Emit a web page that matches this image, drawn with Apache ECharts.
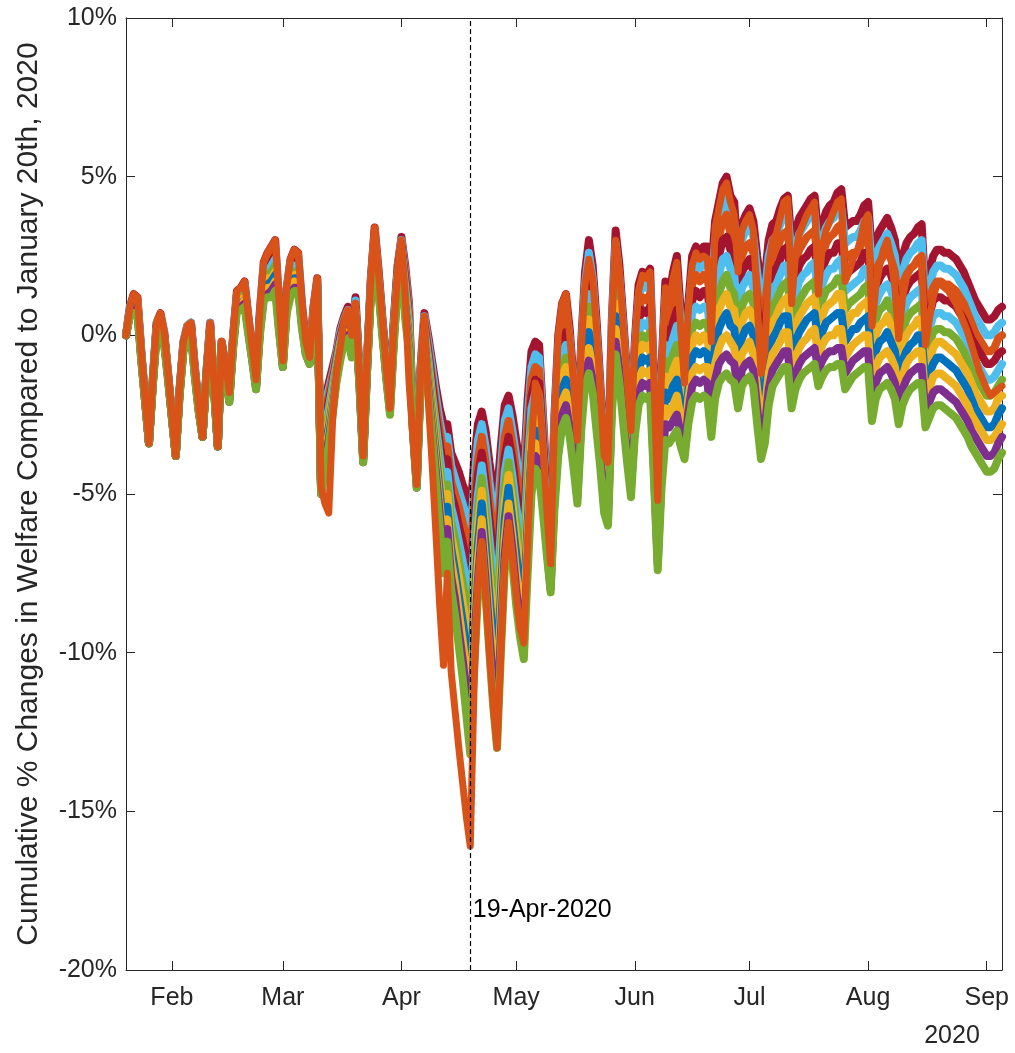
<!DOCTYPE html>
<html>
<head>
<meta charset="utf-8">
<title>Cumulative % Changes in Welfare</title>
<script src="https://cdn.jsdelivr.net/npm/echarts@6/dist/echarts.min.js"></script>
<style>
  html, body { margin: 0; padding: 0; background: #fff; }
  #main { width: 1015px; height: 1053px; }
</style>
</head>
<body>
<div id="main"></div>
<script>
// one value per day from 20-Jan-2020, in tenths of a percent
var band0 = [0,9,13,12,-5,-20,-34,-14,4,7, 1,-12,-25,-38,-17,-2,3,4,-10,-22, -32,-12,4,-15,-35,-2,-9,-18,0,14, 15,17,6,-4,-14,8,23,26,28,30, 11,-8,15,24,27,26,10,-2,-7,9, 18,-47,-20,-15,-10,-5,2,6,9,2, 12,-10,-37,-8,18,34,21,6,-8,-17, 5,22,31,22,10,-25,-43,-10,7,0, -8,-16,-23,-28,-28,-37,-40,-43,-47,-50, -56,-40,-28,-24,-30,-40,-48,-50,-35,-22, -19,-25,-33,-40,-43,-20,-5,-2,-3,-25, -46,-66,-25,0,10,13,2,-14,-32,-2, 20,30,22,5,-15,-36,-40,5,33,22, 5,-12,-29,-2,16,20,19,21,-12,-49, -10,17,12,20,25,8,-13,10,25,28, 26,28,28,20,36,42,48,50,44,42, 24,35,38,40,36,25,16,18,30,35, 36,40,43,44,29,33,37,39,41,43, 44,31,35,39,41,42,45,46,34,35, 36,36,38,41,42,26,30,33,35,37, 34,30,18,25,29,31,32,34,35,13, 20,25,27,27,26,26,25,24,22,20, 17,14,11,9,7,5,5,6,8,9];
var band1 = [0,9,12,11,-5,-20,-34,-14,4,6, 1,-12,-25,-38,-17,-2,3,4,-10,-22, -32,-12,4,-15,-35,-2,-9,-18,0,13, 14,16,5,-4,-14,7,22,25,26,28, 10,-8,14,23,26,25,9,-2,-7,8, 17,-47,-22,-17,-12,-6,1,5,8,1, 11,-11,-37,-8,17,33,20,5,-9,-18, 4,21,30,20,8,-26,-44,-11,6,-2, -10,-19,-27,-33,-32,-41,-45,-49,-53,-57, -64,-47,-33,-28,-35,-46,-55,-58,-42,-27, -23,-30,-38,-46,-49,-26,-10,-6,-7,-28, -48,-68,-28,-4,6,9,-1,-17,-34,-5, 16,26,18,1,-18,-38,-42,2,29,18, 2,-15,-31,-5,12,16,15,17,-15,-52, -14,12,7,15,19,4,-16,6,20,23, 21,23,23,15,30,36,42,44,38,36, 19,30,33,35,31,20,10,13,25,30, 31,35,38,39,24,28,32,34,36,38, 39,26,30,34,36,37,40,40,29,30, 31,31,33,36,37,21,25,28,30,32, 29,25,13,20,24,26,27,29,30,9, 15,20,22,22,21,21,20,19,17,15, 12,9,6,4,2,0,0,1,3,4];
var band2 = [0,8,12,11,-6,-20,-34,-14,3,6, 0,-12,-25,-38,-17,-3,2,3,-11,-22, -32,-12,3,-15,-35,-2,-10,-19,-1,13, 14,15,5,-5,-15,6,21,23,25,27, 9,-8,13,22,24,24,8,-3,-7,8, 17,-48,-24,-19,-13,-7,0,4,7,0, 10,-11,-38,-9,17,33,20,5,-9,-19, 3,21,29,19,7,-26,-44,-11,5,-4, -13,-22,-30,-37,-35,-46,-50,-54,-59,-64, -71,-53,-39,-32,-40,-52,-62,-66,-48,-32, -27,-34,-43,-51,-55,-31,-14,-10,-11,-31, -51,-69,-31,-8,2,5,-5,-20,-36,-8, 13,22,14,-2,-20,-40,-44,-1,25,15, -2,-18,-33,-8,8,12,11,13,-19,-54, -18,7,3,10,14,-1,-18,2,16,19, 17,19,18,10,25,31,36,38,32,31, 15,25,28,29,26,14,5,8,20,25, 26,30,32,33,19,23,27,29,31,32, 33,22,25,29,31,32,34,35,24,25, 26,26,28,31,32,15,20,23,25,27, 24,20,9,16,19,21,22,24,25,5, 11,15,17,17,16,16,15,14,12,10, 7,4,1,-1,-3,-5,-5,-4,-1,0];
var band3 = [0,8,11,10,-6,-20,-34,-15,3,5, 0,-13,-25,-38,-18,-3,2,3,-11,-23, -32,-13,3,-16,-35,-3,-10,-19,-1,12, 13,15,4,-5,-15,6,19,22,23,25, 8,-9,13,20,23,22,8,-3,-8,7, 16,-48,-27,-21,-15,-8,-1,4,6,-1, 9,-12,-38,-9,16,32,19,4,-10,-19, 3,20,28,17,5,-27,-45,-12,3,-5, -15,-25,-34,-42,-39,-50,-54,-60,-65,-71, -79,-60,-44,-37,-46,-58,-69,-74,-55,-38, -32,-39,-49,-57,-61,-37,-19,-14,-15,-34, -53,-71,-34,-11,-2,1,-8,-22,-38,-10, 9,17,10,-6,-23,-42,-46,-4,21,11, -5,-20,-36,-11,5,8,7,9,-22,-57, -21,2,-2,4,8,-5,-21,-1,11,14, 12,14,14,4,19,25,30,31,27,25, 10,20,22,24,20,9,-1,2,14,20, 21,24,27,28,13,18,22,24,25,27, 28,17,21,24,26,26,29,29,19,20, 21,22,23,26,26,10,15,18,20,21, 19,15,4,11,15,17,18,19,20,0, 6,11,12,12,11,11,10,9,7,5, 2,-1,-3,-5,-7,-9,-9,-8,-6,-5];
var band4 = [0,8,11,10,-6,-20,-34,-15,2,5, -1,-13,-25,-38,-18,-3,1,2,-11,-23, -32,-13,2,-16,-35,-3,-10,-19,-2,12, 12,14,4,-6,-15,5,18,20,22,24, 7,-9,12,19,22,21,7,-4,-8,7, 16,-48,-29,-23,-16,-9,-2,3,5,-2, 8,-12,-38,-10,16,31,18,4,-10,-20, 2,19,27,15,4,-27,-45,-12,2,-7, -18,-28,-38,-47,-43,-54,-59,-65,-71,-78, -86,-66,-50,-41,-51,-64,-76,-82,-61,-43, -36,-44,-54,-62,-67,-42,-23,-18,-19,-37, -55,-72,-37,-15,-6,-3,-12,-25,-40,-13, 6,13,6,-9,-26,-44,-48,-7,17,7, -8,-23,-38,-14,1,4,3,5,-25,-59, -25,-3,-6,-1,3,-9,-23,-5,7,9, 8,9,9,-1,14,19,24,25,21,19, 5,15,17,19,15,4,-6,-3,9,15, 16,19,22,22,8,13,17,19,20,22, 23,12,16,19,21,21,23,24,14,15, 16,17,18,21,21,5,10,13,15,16, 14,10,0,6,10,12,13,14,15,-4, 2,6,7,7,6,6,5,4,2,0, -3,-6,-8,-10,-12,-14,-14,-13,-11,-9];
var band5 = [0,7,10,9,-7,-21,-34,-15,2,4, -1,-13,-26,-38,-18,-4,1,2,-12,-23, -32,-13,2,-16,-35,-3,-11,-20,-2,11, 11,13,3,-6,-16,4,17,19,20,22, 6,-9,11,18,20,20,6,-4,-8,6, 15,-49,-31,-25,-18,-10,-3,2,4,-3, 7,-13,-39,-10,15,30,17,3,-11,-21, 1,18,26,13,2,-28,-46,-13,1,-9, -20,-31,-42,-52,-47,-59,-64,-71,-78,-85, -94,-73,-55,-45,-56,-70,-83,-90,-68,-48, -40,-49,-59,-68,-73,-48,-28,-22,-24,-41, -58,-74,-40,-19,-10,-7,-15,-28,-43,-16, 2,9,2,-13,-29,-46,-50,-10,13,3, -12,-26,-40,-17,-3,0,-1,1,-29,-62, -29,-8,-11,-6,-3,-14,-26,-9,2,4, 3,4,4,-6,8,13,17,19,15,13, 0,9,12,13,10,-2,-12,-8,4,9, 11,14,16,17,3,8,11,13,15,16, 17,7,11,14,15,16,18,18,8,10, 11,12,13,15,16,-1,5,8,9,11, 8,5,-5,1,5,7,8,9,10,-8, -3,1,2,2,1,1,0,-1,-3,-5, -8,-11,-13,-15,-17,-19,-19,-18,-16,-14];
var band6 = [0,7,9,9,-7,-21,-34,-15,2,4, -1,-13,-26,-38,-18,-4,1,2,-12,-23, -32,-13,2,-16,-35,-3,-11,-20,-2,10, 11,12,2,-6,-16,3,16,18,18,20, 5,-9,10,17,19,19,5,-4,-8,6, 14,-49,-33,-27,-19,-11,-4,1,3,-3, 7,-13,-39,-10,14,30,17,2,-11,-22, 0,18,26,12,1,-28,-46,-14,0,-11, -22,-34,-45,-56,-50,-63,-69,-76,-84,-92, -102,-79,-60,-49,-61,-76,-89,-98,-74,-53, -44,-53,-64,-73,-78,-53,-32,-26,-28,-44, -60,-75,-43,-23,-13,-10,-18,-31,-45,-19, -2,5,-2,-16,-31,-48,-52,-13,10,0, -15,-29,-42,-20,-7,-3,-4,-3,-32,-64, -33,-13,-16,-11,-8,-18,-29,-13,-3,0, -2,0,-1,-11,2,8,11,13,9,8, -4,4,7,8,5,-7,-17,-13,-1,4, 6,9,11,12,-2,3,6,8,10,11, 12,3,6,9,10,11,13,13,3,5, 7,7,9,10,11,-6,0,3,4,6, 3,0,-10,-3,0,2,3,5,5,-12, -8,-4,-2,-2,-3,-4,-5,-6,-8,-10, -12,-15,-18,-20,-22,-24,-24,-23,-20,-19];
var band7 = [0,7,9,8,-7,-21,-34,-15,1,3, -2,-13,-26,-38,-18,-4,0,1,-12,-23, -32,-13,1,-16,-35,-3,-11,-20,-3,10, 10,11,2,-7,-16,2,15,16,17,19, 4,-9,9,16,18,18,4,-5,-8,5, 14,-49,-35,-29,-21,-12,-5,0,2,-4, 6,-14,-39,-11,14,29,16,2,-12,-23, -1,17,25,10,-1,-29,-47,-14,-1,-13, -25,-37,-49,-61,-54,-67,-74,-82,-90,-99, -109,-86,-66,-53,-66,-82,-96,-106,-81,-58, -48,-58,-69,-79,-84,-59,-37,-30,-32,-47, -62,-77,-46,-27,-17,-14,-22,-34,-47,-22, -5,1,-6,-20,-34,-50,-54,-16,6,-4, -18,-32,-44,-23,-11,-7,-8,-7,-35,-67, -37,-18,-20,-16,-14,-22,-31,-17,-7,-5, -6,-5,-6,-16,-3,2,5,7,3,2, -9,-1,2,3,0,-12,-23,-18,-6,-1, 1,4,6,6,-7,-2,1,3,5,6, 7,-2,1,4,5,6,7,7,-2,0, 2,2,4,5,6,-11,-5,-2,-1,1, -2,-5,-14,-8,-5,-3,-2,0,0,-16, -12,-9,-7,-7,-8,-9,-10,-11,-13,-15, -17,-20,-23,-25,-27,-29,-29,-28,-25,-23];
var band8 = [0,7,8,8,-7,-21,-34,-16,1,3, -2,-14,-26,-38,-19,-4,0,1,-12,-24, -32,-14,1,-17,-35,-4,-11,-20,-3,9, 9,11,1,-7,-16,2,13,15,15,17, 3,-10,9,14,17,16,4,-5,-9,5, 13,-49,-38,-31,-22,-13,-6,0,1,-5, 5,-14,-39,-11,13,28,15,1,-12,-23, -1,16,24,8,-2,-29,-47,-15,-3,-14, -27,-40,-53,-66,-58,-71,-78,-87,-96,-106, -117,-92,-71,-58,-72,-88,-103,-114,-87,-64, -53,-63,-75,-84,-90,-64,-41,-34,-36,-50, -64,-78,-49,-30,-21,-18,-25,-36,-49,-24, -9,-4,-10,-23,-37,-52,-56,-19,2,-8, -21,-34,-47,-26,-14,-11,-12,-11,-38,-69, -40,-23,-25,-22,-19,-26,-34,-20,-12,-10, -11,-10,-10,-22,-9,-4,-1,0,-2,-4, -14,-6,-4,-2,-6,-17,-28,-24,-12,-6, -4,-2,1,1,-13,-7,-4,-2,-1,1, 2,-7,-3,-1,0,0,2,2,-7,-5, -3,-2,-1,0,0,-16,-10,-7,-6,-5, -7,-10,-19,-13,-9,-7,-6,-5,-5,-21, -17,-13,-12,-12,-13,-14,-15,-16,-18,-20, -22,-25,-27,-29,-31,-33,-33,-32,-30,-28];
var band9 = [0,6,8,7,-8,-21,-34,-16,0,2, -3,-14,-26,-38,-19,-5,-1,0,-13,-24, -32,-14,0,-17,-35,-4,-12,-21,-4,9, 9,10,1,-8,-17,1,12,13,14,16, 2,-10,8,13,15,15,3,-6,-9,4, 13,-50,-40,-33,-24,-14,-7,-1,0,-6, 4,-15,-40,-12,13,28,15,1,-13,-24, -2,16,23,7,-4,-30,-48,-15,-4,-16, -30,-43,-56,-70,-61,-76,-83,-93,-102,-113, -124,-99,-77,-62,-77,-94,-110,-122,-94,-69, -57,-67,-80,-90,-96,-70,-46,-38,-40,-53, -67,-80,-52,-34,-25,-22,-29,-39,-51,-27, -12,-8,-14,-27,-39,-54,-58,-22,-2,-11, -25,-37,-49,-29,-18,-15,-16,-15,-42,-72, -44,-28,-29,-27,-25,-31,-36,-24,-16,-14, -15,-14,-15,-27,-14,-9,-7,-6,-8,-9, -18,-11,-9,-8,-11,-23,-34,-29,-17,-11, -9,-7,-5,-5,-18,-12,-9,-7,-6,-5, -4,-11,-8,-6,-5,-5,-4,-4,-12,-10, -8,-7,-6,-5,-5,-22,-15,-12,-11,-10, -12,-15,-23,-17,-14,-12,-11,-10,-10,-25, -21,-18,-17,-17,-18,-19,-20,-21,-23,-25, -27,-30,-32,-34,-36,-38,-38,-37,-34,-32];
var band10 = [0,6,7,7,-8,-21,-34,-16,0,2, -3,-14,-26,-38,-19,-5,-1,0,-13,-24, -32,-14,0,-17,-35,-4,-12,-21,-4,8, 8,9,0,-8,-17,0,11,12,12,14, 1,-10,7,12,14,14,2,-6,-9,4, 12,-50,-42,-35,-25,-15,-8,-2,-1,-7, 3,-15,-40,-12,12,27,14,0,-13,-25, -3,15,22,5,-5,-30,-48,-16,-5,-18, -32,-46,-60,-75,-65,-80,-88,-98,-108,-120, -132,-105,-82,-66,-82,-100,-117,-130,-100,-74, -61,-72,-85,-95,-102,-75,-50,-42,-44,-56, -69,-81,-55,-38,-29,-26,-32,-42,-53,-30, -16,-12,-18,-30,-42,-56,-60,-25,-6,-15, -28,-40,-51,-32,-22,-19,-20,-19,-45,-74, -48,-33,-34,-32,-30,-35,-39,-28,-21,-19, -20,-19,-20,-32,-20,-15,-13,-12,-14,-15, -23,-16,-14,-13,-16,-28,-39,-34,-22,-16, -14,-12,-10,-10,-23,-17,-14,-12,-11,-10, -9,-16,-13,-11,-10,-10,-9,-9,-17,-15, -13,-12,-11,-10,-10,-27,-20,-17,-16,-15, -17,-20,-28,-22,-19,-17,-16,-15,-15,-29, -26,-23,-22,-22,-23,-24,-25,-26,-28,-30, -32,-35,-37,-39,-41,-43,-43,-42,-39,-37];
// the line drawn last (orange, reaches -16% on 19-Apr)
var lastLine = [0,9,13,12,-5,-20,-34,-14,4,7, 1,-12,-25,-38,-17,-2,3,4,-10,-22, -32,-12,4,-15,-35,-2,-9,-18,0,14, 15,17,6,-4,-14,8,23,26,28,30, 11,-8,15,24,27,26,10,-2,-7,9, 18,-48,-53,-56,-27,-12,-4,5,8,0, 10,-12,-38,-9,18,34,20,5,-10,-23, 2,20,30,12,-15,-32,-47,-12,6,-20, -40,-62,-85,-104,-75,-106,-118,-130,-141,-152, -161,-110,-78,-65,-82,-100,-117,-130,-100,-72, -59,-70,-82,-92,-97,-65,-35,-15,-18,-35, -55,-72,-28,0,10,13,0,-15,-33,-5, 16,24,18,2,-18,-38,-40,2,30,20, 3,-14,-30,-4,14,19,18,20,-14,-52, -12,15,10,18,23,2,-15,8,22,26, 24,25,24,-2,34,40,46,48,42,38, 20,33,36,38,33,10,-12,-5,22,30, 32,37,42,43,10,25,32,35,38,40, 42,13,28,33,36,39,42,43,17,20, 24,26,30,36,38,3,15,22,27,30, 24,15,-1,12,18,21,22,23,22,-3, 5,12,16,16,15,14,12,10,7,4, 1,-3,-7,-11,-14,-17,-19,-18,-17,-16];

var monthStarts = ['2020-02-01','2020-03-01','2020-04-01','2020-05-01','2020-06-01','2020-07-01','2020-08-01','2020-09-01'];
var monthNames = ['Feb','Mar','Apr','May','Jun','Jul','Aug','Sep'];
var markedDay = '2020-04-19';

var blue = '#0072BD', orange = '#D95319', yellow = '#EDB120', purple = '#7E2F8E',
    green = '#77AC30', lightBlue = '#4DBEEE', darkRed = '#A2142F';
var bands = [band0, band1, band2, band3, band4, band5, band6, band7, band8, band9, band10];
var bandColors = [darkRed, lightBlue, orange, darkRed, lightBlue, green, yellow, blue, yellow, purple, green];

var days = [];
var start = Date.UTC(2020, 0, 20);
for (var i = 0; i < band0.length; i++) {
    days.push(new Date(start + i * 86400000).toISOString().slice(0, 10));
}

var font = 'Liberation Sans, Arial, Helvetica, sans-serif';
var axisColor = '#262626';
function isMonthStart(idx, val) { return monthStarts.indexOf(val) >= 0; }

var series = bands.map(function (b, i) {
    return {
        type: 'line',
        data: b.map(function (v) { return v / 10; }),
        symbol: 'none',
        silent: true,
        emphasis: { disabled: true },
        lineStyle: { width: 8, color: bandColors[i], cap: 'round', join: 'round' },
        itemStyle: { color: bandColors[i] }
    };
});
series.push({
    type: 'line',
    data: lastLine.map(function (v) { return v / 10; }),
    symbol: 'none',
    silent: true,
    emphasis: { disabled: true },
    lineStyle: { width: 7, color: orange, cap: 'round', join: 'round' },
    itemStyle: { color: orange },
    markLine: {
        silent: true,
        symbol: ['none', 'none'],
        label: { show: false },
        lineStyle: { color: '#000', type: [5, 3], width: 1.2 },
        data: [{ xAxis: markedDay }]
    },
    markPoint: {
        silent: true,
        symbol: 'rect',
        symbolSize: 1,
        itemStyle: { color: 'rgba(0,0,0,0)' },
        label: {
            show: true, position: 'right', distance: 2,
            formatter: '19-Apr-2020', fontSize: 25, color: '#000', fontFamily: font
        },
        data: [{ coord: [markedDay, -18.1] }]
    }
});

var myChart = echarts.init(document.getElementById('main'));
myChart.setOption({
    animation: false,
    backgroundColor: '#fff',
    grid: { left: 126, right: 13, top: 18, height: 952 },
    xAxis: [{
        type: 'category',
        data: days,
        boundaryGap: false,
        axisLine: { onZero: false, lineStyle: { color: axisColor, width: 1 } },
        axisTick: { inside: true, length: 9, interval: isMonthStart, lineStyle: { color: axisColor } },
        axisLabel: {
            interval: isMonthStart,
            formatter: function (v) { return monthNames[monthStarts.indexOf(v)]; },
            fontSize: 25, color: axisColor, margin: 16, fontFamily: font
        },
        splitLine: { show: false }
    }, {
        type: 'category',
        data: days,
        boundaryGap: false,
        position: 'top',
        axisLine: { onZero: false, lineStyle: { color: axisColor, width: 1 } },
        axisTick: { show: true, inside: true, length: 9, interval: isMonthStart, lineStyle: { color: axisColor } },
        axisLabel: {
            show: true, interval: isMonthStart, color: 'rgba(0,0,0,0)',
            formatter: function () { return ''; }
        },
        splitLine: { show: false }
    }],
    yAxis: [{
        type: 'value',
        min: -20, max: 10, interval: 5,
        name: 'Cumulative % Changes in Welfare Compared to January 20th, 2020',
        nameLocation: 'middle',
        nameGap: 82,
        nameTextStyle: { fontSize: 30, color: axisColor, fontFamily: font },
        axisLine: { show: true, onZero: false, lineStyle: { color: axisColor, width: 1 } },
        axisTick: { show: true, inside: true, length: 9, lineStyle: { color: axisColor } },
        axisLabel: { formatter: '{value}%', fontSize: 25, color: axisColor, margin: 9, fontFamily: font },
        splitLine: { show: false }
    }, {
        type: 'value',
        position: 'right',
        min: -20, max: 10, interval: 5,
        axisLine: { show: true, onZero: false, lineStyle: { color: axisColor, width: 1 } },
        axisTick: { show: true, inside: true, length: 9, lineStyle: { color: axisColor } },
        axisLabel: { show: false },
        splitLine: { show: false }
    }],
    graphic: [{
        type: 'text',
        x: 952, y: 1036,
        style: { text: '2020', fontSize: 25, fontFamily: font, fill: axisColor, textAlign: 'center', textVerticalAlign: 'middle' }
    }],
    series: series
});
</script>
</body>
</html>
